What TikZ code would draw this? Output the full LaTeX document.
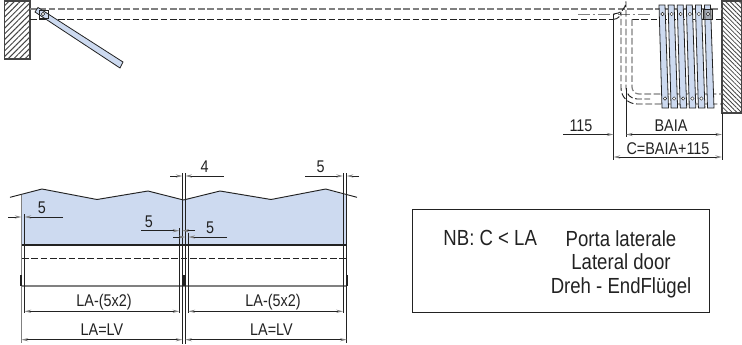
\documentclass[tikz,border=0pt]{standalone}
\usepackage{fontspec}
\setmainfont[FakeStretch=0.85]{Liberation Sans}
\usetikzlibrary{arrows.meta,patterns.meta}
\definecolor{leafblue}{HTML}{CDDAF0}
\definecolor{inkgray}{HTML}{222222}
\definecolor{wallgray}{HTML}{444444}
\begin{document}
\begin{tikzpicture}
[ x=0.75pt, y=-0.75pt, line width=0.7pt, draw=inkgray, text=inkgray
, leftwall/.style={draw=wallgray, line width=0.9pt, pattern={Lines[angle=45,distance=3pt,line width=0.75pt]}, pattern color=wallgray}
, rightwall/.style={draw=wallgray, line width=0.9pt, pattern={Lines[angle=135,distance=2.4pt,line width=0.6pt]}, pattern color=wallgray}
, leaf/.style={draw=inkgray, fill=leafblue, line width=0.6pt}
, hidden/.style={dashed, dash pattern=on 5pt off 2pt}
, hiddengray/.style={hidden, draw=gray, line width=0.9pt}
, axisline/.style={draw=gray, dash pattern=on 9pt off 2pt on 2pt off 2pt}
, extline/.style={draw=inkgray, line width=0.7pt}
, dimline/.style={draw=inkgray, {Stealth[length=5pt,width=2.4pt,gray]}-{Stealth[length=5pt,width=2.4pt,gray]}}
, dimin/.style={draw=inkgray, -{Stealth[length=5pt,width=2.4pt,gray]}}
, dimlabel/.style={font=\fontsize{12.7}{14}\selectfont, inner sep=0pt}
, pin/.style={circle, draw=inkgray, fill=white, inner sep=0pt, minimum size=2.6pt, line width=0.3pt}
]
\useasboundingbox (0,0) rectangle (742,344);
% Walls:
\draw [leftwall] (4.5,1) rectangle (30,59);
\draw [rightwall] (722,1) rectangle (742,113);
% Guide rails:
\draw [hiddengray] (30,9) -- (722,9);
\draw [hidden] (30,19.3) -- (613,19.3);
\draw [hidden] (632,19.3) -- (722,19.3);
\draw [axisline] (578,14) -- (650,14);
% Open leaf:
\draw [leaf] (35,12) -- (38,7.5) -- (123,62) -- (120,68) -- cycle;
\draw [draw=inkgray] (39,10) rectangle (48,18);
\node (hingeL) [pin] at (43,14) {};
% Curved track:
\draw [hiddengray] (632,19.3) -- (632,87) arc [start angle=180, end angle=90, radius=7] -- (722,94);
\draw [hidden] (613.5,14) arc [start angle=90, end angle=0, radius=12.5] -- (626,88) arc [start angle=180, end angle=90, radius=11] -- (650,99);
\draw [hidden] (613.5,19.3) arc [start angle=90, end angle=0, radius=7.5] -- (621,88) arc [start angle=180, end angle=90, radius=16] -- (722,104);
% Parked leaves:
\foreach \i in {0,...,5} {
  \draw [leaf] ({659+9.1*\i},5) -- ({665+9.1*\i},5) -- ({668.5+9.1*\i},108) -- ({662+9.1*\i},108) -- cycle;
}
\draw [draw=inkgray, fill=gray, fill opacity=0.5] (703,9) rectangle (712,19.3);
\foreach \i in {0,...,5} {
  \node (top\i) [pin] at ({662.5+9.1*\i},14) {};
  \ifnum\i<5 \node (bot\i) [pin] at ({665+9.1*\i},98.5) {}; \fi
}
% Right dimensions:
\draw [extline] (613.5,14) -- (613.5,160);
\draw [extline] (626,88) -- (626,137);
\draw [extline] (722,113) -- (722,160);
\draw [dimin] (563,134.5) -- (613.5,134.5);
\draw [dimline] (626,134.5) -- (722,134.5);
\draw [dimline] (613.5,157) -- (722,157);
\node (d115) [dimlabel] at (581,126) {115};
\node (dbaia) [dimlabel] at (671,126) {BAIA};
\node (dc) [dimlabel] at (668,149) {C=BAIA+115};
% Door panels:
\fill [leafblue] (21.5,194.5) -- (42,189) -- (97,199.5) -- (148,191) -- (183.5,200) -- (220,191) -- (271,199.5) -- (325.7,189) -- (346.7,195.5) -- (346.7,245) -- (21.5,245) -- cycle;
\draw (10,197.3) -- (42,189) -- (97,199.5) -- (148,191) -- (183.5,200) -- (220,191) -- (271,199.5) -- (325.7,189) -- (357,197.3);
\draw [line width=0.9pt] (21.5,245) -- (346.7,245);
\draw [hidden] (22,258) -- (346,258);
\draw [draw=gray, line width=0.9pt] (21,286) -- (347,286);
% Extension lines:
\draw [draw=gray, line width=0.8pt] (21.5,194.5) -- (21.5,343);
\draw [extline] (24.5,214) -- (24.5,313);
\draw [extline] (179.3,228) -- (179.3,313);
\draw [extline] (182.4,173) -- (182.4,344);
\draw [extline] (185.3,173) -- (185.3,344);
\draw [extline] (188.4,233) -- (188.4,313);
\draw [extline] (343,173) -- (343,313);
\draw [extline] (346.7,173) -- (346.7,343);
% Handles:
\foreach \hx in {20.5,183.5,347} { \fill [inkgray] (\hx-1,275) rectangle (\hx+1,286); }
% Gap dimensions:
\draw [dimin] (8,217) -- (21.5,217);
\draw [dimin] (63,217) -- (24.5,217);
\draw [dimin] (141,230.7) -- (179.3,230.7);
\draw [dimin] (195,230.7) -- (182.4,230.7);
\draw [dimin] (173,237) -- (185.3,237);
\draw [dimin] (227,237) -- (188.4,237);
\draw [dimin] (170,176) -- (182.4,176);
\draw [dimin] (223.7,176) -- (185.3,176);
\draw [dimin] (305,176) -- (343,176);
\draw [dimin] (359,176) -- (346.7,176);
\node (gapL) [dimlabel] at (42,208) {5};
\node (gapC) [dimlabel] at (149,222) {5};
\node (gapD) [dimlabel] at (210,228) {5};
\node (gapT) [dimlabel] at (204.5,167) {4};
\node (gapR) [dimlabel] at (320.5,167) {5};
% Width dimensions:
\draw [dimline] (24.5,311.3) -- (179.3,311.3);
\draw [dimline] (188.4,311.3) -- (343,311.3);
\draw [dimline] (21.5,339.7) -- (182.4,339.7);
\draw [dimline] (185.3,339.7) -- (346.7,339.7);
\node (lessL) [dimlabel] at (104,302) {LA-(5x2)};
\node (lessR) [dimlabel] at (273,302) {LA-(5x2)};
\node (fullL) [dimlabel] at (102,330) {LA=LV};
\node (fullR) [dimlabel] at (271.5,330) {LA=LV};
% Note box:
\draw [draw=inkgray, line width=0.7pt] (412.5,209.3) rectangle (709.3,312.3);
\node (nb) [anchor=base west, inner sep=0pt, font=\fontsize{16.4}{18}\selectfont] at (443,245) {NB: C < LA};
\node (doortype) [anchor=north, inner sep=0pt, align=center, font=\fontsize{16.4}{17.6}\selectfont] at (621,230) {Porta laterale\\Lateral door\\Dreh - EndFlügel};
\end{tikzpicture}
\end{document}
